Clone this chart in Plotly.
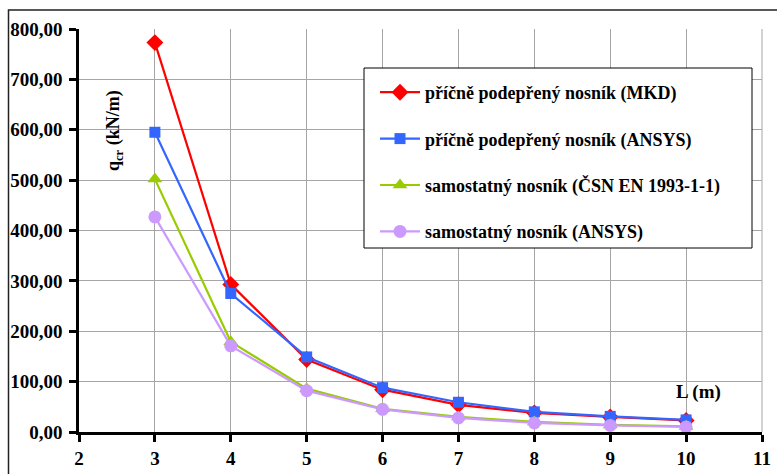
import plotly.graph_objects as go

L = [3, 4, 5, 6, 7, 8, 9, 10]
names = ["příčně podepřený nosník (MKD)",
         "příčně podepřený nosník (ANSYS)",
         "samostatný nosník (ČSN EN 1993-1-1)",
         "samostatný nosník (ANSYS)"]
q_mkd = [773, 293, 144, 84, 54, 38, 30, 23]
q_ansys = [595, 275, 149, 88, 59, 40, 31, 24]
q_csn = [502, 179, 86, 46, 30, 20, 14, 11]
q_ans2 = [427, 171, 82, 45, 28, 18, 13, 10]
series = [q_mkd, q_ansys, q_csn, q_ans2]
colors = ["#ff0000", "#3366ff", "#99cc00", "#cc99ff"]
symbols = ["diamond", "square", "triangle-up", "circle"]
msizes = [13, 11, 13, 13]

FONT = "Times New Roman"

fig = go.Figure()
for i, (nm, ys) in enumerate(zip(names, series)):
    fig.add_trace(go.Scatter(
        x=L, y=ys, name="<b>" + nm + "</b>", mode="lines+markers",
        line=dict(color=colors[i], width=2.2),
        marker=dict(symbol=symbols[i], size=msizes[i], color=colors[i]),
        legendgroup=str(i),
    ))

W, H = 777, 474
l, r, t, b = 79, 15, 29, 42
pw, ph = W - l - r, H - t - b

def px(x):
    return (x - l) / pw

def py(y):
    return (H - b - y) / ph

fig.update_layout(
    width=W, height=H,
    margin=dict(l=l, r=r, t=t, b=b, autoexpand=False),
    paper_bgcolor="white", plot_bgcolor="white",
    separators=", ",
    font=dict(family=FONT, size=18, color="black"),
    legend=dict(
        x=px(375), y=py(74), xanchor="left", yanchor="top",
        bgcolor="rgba(0,0,0,0)", borderwidth=0,
        font=dict(family=FONT, size=18, color="black"),
        tracegroupgap=20, itemwidth=40,
    ),
    xaxis=dict(
        range=[2, 11], dtick=1, tick0=2, automargin=False,
        showgrid=True, gridcolor="#a6a6a6", gridwidth=1,
        showline=True, linecolor="black", linewidth=2.5,
        ticks="outside", ticklen=7, tickwidth=2.5, tickcolor="black",
        zeroline=False, tickprefix="<b>", ticksuffix="</b>",
        tickfont=dict(family=FONT, size=19),
    ),
    yaxis=dict(
        range=[0, 800], dtick=100, automargin=False,
        tickformat=".2f", tickprefix="<b>", ticksuffix="</b>",
        showgrid=True, gridcolor="#a6a6a6", gridwidth=1,
        showline=True, linecolor="black", linewidth=2.5,
        ticks="outside", ticklen=7, tickwidth=2.5, tickcolor="black",
        zeroline=False, ticklabelstandoff=3,
        tickfont=dict(family=FONT, size=19),
    ),
    shapes=[
        dict(type="rect", xref="paper", yref="paper",
             x0=px(8.5), x1=1.2, y0=-0.3, y1=py(10),
             line=dict(color="#222222", width=1.5), layer="below"),
        dict(type="line", xref="paper", yref="paper",
             x0=1, x1=1, y0=0, y1=1,
             line=dict(color="#a6a6a6", width=1)),
        dict(type="rect", xref="paper", yref="paper",
             x0=px(364), x1=px(752), y0=py(248), y1=py(68),
             fillcolor="white", line=dict(color="black", width=1), layer="above"),
    ],
    annotations=[
        dict(text="<b>q<sub>cr</sub> (kN/m)</b>", xref="paper", yref="paper",
             x=px(101), y=py(88), textangle=-90, showarrow=False,
             font=dict(family=FONT, size=18)),
        dict(text="<b>L (m)</b>", xref="paper", yref="paper",
             x=px(723), y=py(405), showarrow=False,
             font=dict(family=FONT, size=19)),
    ],
)

force_font = ("var s=document.createElement('style');"
              "s.textContent='svg text, svg tspan, .xtick text, .ytick text, .legendtext, .legendtext tspan"
              "{font-family:\"Times New Roman\",\"Liberation Serif\",Tinos,serif !important;}';"
              "document.head.appendChild(s);")

fig.write_html("out.html", post_script=force_font)
